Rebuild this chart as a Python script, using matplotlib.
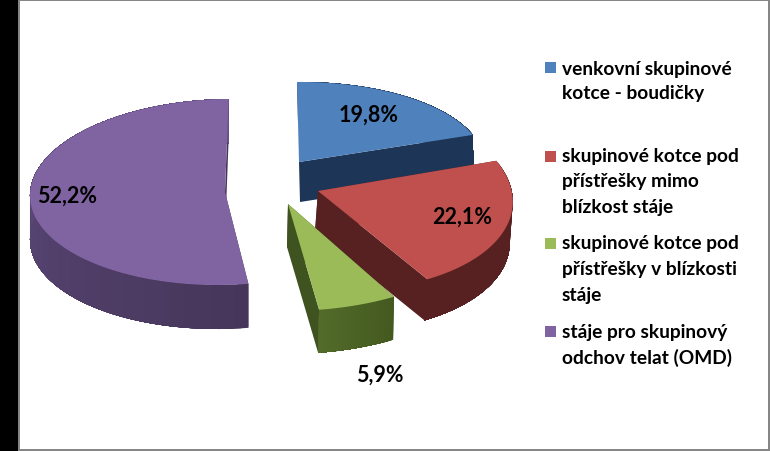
import numpy as np
import matplotlib
matplotlib.use('Agg')
import matplotlib.pyplot as plt
from matplotlib.colors import to_rgb
from matplotlib.patches import Polygon, Rectangle

plt.rcParams['font.family'] = ['Lato', 'DejaVu Sans']

values = [19.8, 22.1, 5.9, 52.2]
value_labels = ['19,8%', '22,1%', '5,9%', '52,2%']
legend_lines = [
    ['venkovní skupinové', 'kotce - boudičky'],
    ['skupinové kotce pod', 'přístřešky mimo', 'blízkost stáje'],
    ['skupinové kotce pod', 'přístřešky v blízkosti', 'stáje'],
    ['stáje pro skupinový', 'odchov telat (OMD)'],
]
top_colors = ['#4F81BD', '#C0504D', '#9BBB59', '#8064A2']
cut_colors = ['#1D3557', '#562120', '#3F5321', '#46365A']
rim_from = ['#1D3557', '#562120', '#44591F', '#46365A']
rim_to = ['#1D3557', '#562120', '#526B2A', '#67518A']

# pixel layout of the exploded slices: apex, x axis, y axis, extrusion
apex = [(299, 163), (318, 192), (288, 205), (225, 193)]
axis_a = [(184, -1.5), (194, 2), (215, -1.4), (195, -2)]
axis_b = [(-2, -80), (-17, -100), (-1.5, -107), (3.5, -93)]
depth = [(1, 40), (-3, 41), (-1, 43), (0, 44)]
label_pos = [(369, 115), (462, 217), (380, 375), (67, 196)]
legend_y = [[69, 94], [157, 182, 208], [244, 270, 296], [333, 358]]
square_y = [68.5, 157, 244.5, 332.5]

fig = plt.figure(figsize=(7.7, 4.52), dpi=100)
ax = fig.add_axes([0, 0, 1, 1])
ax.set_xlim(0, 770)
ax.set_ylim(452, 0)
ax.axis('off')

# frame
ax.add_patch(Rectangle((0, 0), 18, 452, color='black', lw=0))
ax.add_patch(Rectangle((18, 0), 752, 452, color='#868686', lw=0))
ax.add_patch(Rectangle((20, 2), 748, 448, color='white', lw=0))


def rim_point(i, t):
    a, b, c = apex[i], axis_a[i], axis_b[i]
    return np.column_stack([a[0] + np.sin(t) * b[0] + np.cos(t) * c[0],
                            a[1] + np.sin(t) * b[1] + np.cos(t) * c[1]])


edges = np.cumsum([0] + values) / sum(values) * 2 * np.pi

for i in range(len(values)):
    t = np.linspace(edges[i], edges[i + 1], 90)
    rim = rim_point(i, t)
    shift = np.array(depth[i], dtype=float)
    c0, c1 = np.array(to_rgb(rim_from[i])), np.array(to_rgb(rim_to[i]))

    # cut faces
    ap = np.array(apex[i], dtype=float)
    for end in (rim[0], rim[-1]):
        quad = [ap, end, end + shift, ap + shift]
        ax.add_patch(Polygon(quad, fc=cut_colors[i], ec='none'))

    # curved wall: every strip runs to the end of the arc so no seams show
    for k in range(len(t) - 1):
        col = c0 + (c1 - c0) * k / (len(t) - 2)
        band = np.vstack([rim[k:], rim[k:][::-1] + shift])
        ax.add_patch(Polygon(band, fc=col, ec='none'))

    ax.add_patch(Polygon(np.vstack([ap, rim]), fc=top_colors[i], ec='none'))

for lab, (x, y) in zip(value_labels, label_pos):
    ax.text(x, y, lab, ha='center', va='center', fontsize=15.5, fontweight='bold', color='black')

# legend
for i, lines in enumerate(legend_lines):
    ax.add_patch(Rectangle((545, square_y[i] - 5.5), 11, 11, color=top_colors[i], lw=0))
    for line, y in zip(lines, legend_y[i]):
        ax.text(562, y, line, ha='left', va='center', fontsize=13.8, fontweight='bold', color='black')

fig.savefig('out.png', dpi=100)
